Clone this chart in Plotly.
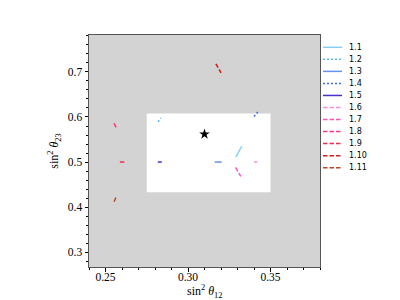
import plotly.graph_objects as go

# segment data: name, x pair, y pair
names = ['1.1', '1.2', '1.3', '1.4', '1.5', '1.6', '1.7', '1.8', '1.9', '1.10', '1.11']
seg_x = [
    [0.329, 0.3325],
    [0.2819, 0.2835],
    [0.3162, 0.3204],
    [0.3400, 0.3423],
    [0.2817, 0.2841],
    [0.3400, 0.3420],
    [0.3288, 0.3320],
    [0.2552, 0.2564],
    [0.2587, 0.2619],
    [0.3169, 0.3200],
    [0.2552, 0.2564],
]
seg_y = [
    [0.511, 0.535],
    [0.589, 0.598],
    [0.500, 0.500],
    [0.601, 0.611],
    [0.500, 0.500],
    [0.500, 0.500],
    [0.488, 0.468],
    [0.586, 0.577],
    [0.500, 0.500],
    [0.718, 0.698],
    [0.412, 0.422],
]
colors = ['#87CEFA', '#5BB8F0', '#6495ED', '#4169E1', '#4B2ECC',
          '#FF8DD8', '#FF55BB', '#FF3388', '#F0304D', '#D41A1A', '#C04520']
dashes = ['solid', '2px,2px', 'solid', '2px,2px', 'solid',
          '4.5px,2px', '4.5px,2px', '4.5px,2px', '4.5px,2px', '4.5px,2px', '4.5px,2px']

best_x = [0.310]
best_y = [0.562]

# allowed region (white box)
box_x = [0.275, 0.350]
box_y = [0.433, 0.608]

fig = go.Figure()
for n, xs, ys, c, d in zip(names, seg_x, seg_y, colors, dashes):
    fig.add_trace(go.Scatter(x=xs, y=ys, mode='lines', name=n, showlegend=False,
                             line=dict(color=c, width=1.5, dash=d)))

fig.add_trace(go.Scatter(x=best_x, y=best_y, mode='markers', showlegend=False,
                         marker=dict(symbol='star', size=8, color='black')))

fig.add_shape(type='rect', x0=box_x[0], x1=box_x[1], y0=box_y[0], y1=box_y[1],
              fillcolor='white', line=dict(width=0), layer='below')

# page has an 8px body margin, so the figure is made 8px smaller
FW, FH, OFF = 392, 292, 8
L, T, W, H = 89 - OFF, 35 - OFF, 231, 232
B = FH - T - H

def px_x(p):
    return (p - OFF - L) / W

def px_y(p):
    return (T + H - (p - OFF)) / H

# compact legend, matplotlib style (plotly's own rows are too tall here)
for i, (n, c, d) in enumerate(zip(names, colors, dashes)):
    yy = px_y(47.3 + 12.04 * i)
    fig.add_shape(type='line', xref='paper', yref='paper',
                  x0=px_x(323), x1=px_x(342), y0=yy, y1=yy,
                  line=dict(color=c, width=1.5, dash=d))
    fig.add_annotation(xref='paper', yref='paper', x=px_x(347), y=yy,
                       text=n, showarrow=False, xanchor='left', yanchor='middle',
                       font=dict(family='DejaVu Sans', size=8, color='black'))

axfont = dict(family='Liberation Serif, DejaVu Serif, serif', size=12, color='black')
tickfont = dict(family='Liberation Serif, DejaVu Serif, serif', size=11.5, color='black')

# x title as an annotation so it sits clear of the tick labels
fig.add_annotation(xref='paper', yref='paper', x=px_x(204.5), y=px_y(291),
                   text='sin<sup>2</sup> <i>θ</i><sub>12</sub>', showarrow=False,
                   xanchor='center', yanchor='middle', font=axfont)

fig.update_xaxes(range=[0.24, 0.38], tickvals=[0.25, 0.30, 0.35],
                 ticktext=['0.25', '0.30', '0.35'],
                 ticks='outside', ticklen=3.5, tickcolor='black', ticklabelstandoff=-4,
                 minor=dict(dtick=0.01, tick0=0.24, ticks='outside', ticklen=2, tickcolor='black'),
                 showgrid=False, zeroline=False, showline=True, linecolor='#555',
                 linewidth=1, mirror=True, tickfont=tickfont, automargin=False)
fig.update_yaxes(range=[0.267, 0.782], tickvals=[0.3, 0.4, 0.5, 0.6, 0.7],
                 ticktext=['0.3', '0.4', '0.5', '0.6', '0.7'],
                 ticks='outside', ticklen=3.5, tickcolor='black',
                 minor=dict(dtick=0.02, tick0=0.28, ticks='outside', ticklen=2, tickcolor='black'),
                 showgrid=False, zeroline=False, showline=True, linecolor='#555',
                 linewidth=1, mirror=True, tickfont=tickfont, automargin=False,
                 title=dict(text='sin<sup>2</sup> <i>θ</i><sub>23</sub>', font=axfont, standoff=6))

fig.update_layout(
    width=FW, height=FH,
    margin=dict(l=L, r=FW - L - W, t=T, b=B),
    plot_bgcolor='#D3D3D3', paper_bgcolor='white',
    showlegend=False,
)

fig.write_html("out.html")
